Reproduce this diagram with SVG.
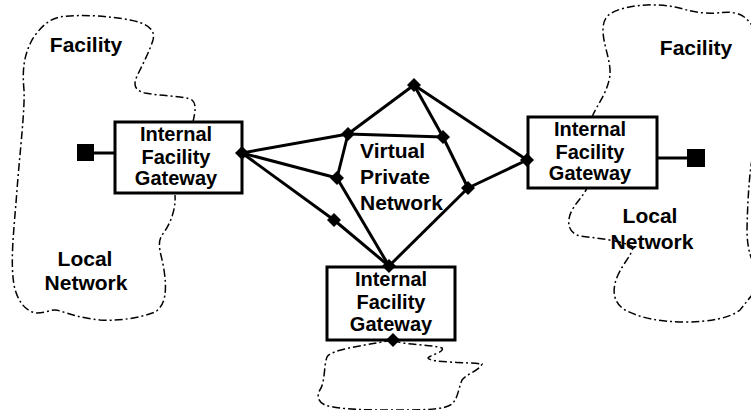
<svg xmlns="http://www.w3.org/2000/svg" width="751" height="410" viewBox="0 0 751 410">
<style>
.bg{fill:#fff}
.cloud{fill:none;stroke:#000;stroke-width:1.5;stroke-dasharray:8 3 2 3}
.box{fill:#fff;stroke:#000;stroke-width:3}
.edge{stroke:#000;stroke-width:3;fill:none}
.t{font-family:"Liberation Sans",Arial,sans-serif;font-weight:bold;font-size:20px;fill:#000;text-anchor:middle}
.tl{font-family:"Liberation Sans",Arial,sans-serif;font-weight:bold;font-size:21px;fill:#000;text-anchor:middle}
.tv{font-family:"Liberation Sans",Arial,sans-serif;font-weight:bold;font-size:21px;fill:#000}
</style>
<defs>
<path id="dia" d="M0,-7 L7,0 L0,7 L-7,0 Z" fill="#000"/>
</defs>
<rect class="bg" width="751" height="410"/>
<g id="clouds">
<path id="cloud-left" class="cloud" d="M193,122 C195,112 197,104 192,100 C186,96 160,96 145,93 C132,90 134,82 138,74 C143,64 150,50 153,40 C156,28 145,23 130,20 C110,16 80,14 60,17 C48,19 38,30 32,40 C24,55 22,70 24,90 C25,110 20,150 17,190 C14,230 10,260 14,285 C17,300 25,312 37,313 C47,313 52,308 60,311 C70,314 80,318 100,320 C120,321 140,318 155,312 C166,305 167,290 164,270 C162,255 156,245 162,235 C170,225 176,210 175,195"/>
<path id="cloud-right" class="cloud" d="M592,117 C597,105 608,92 610,75 C611,60 603,45 603,30 C603,18 608,12 625,8 C640,4 660,4 675,7 C685,9 690,12 705,13 C720,14 725,11 735,13 C745,15 750,22 755,30 L765,40 L765,125 C752,135 748,180 747,230 C747,250 752,262 756,266 L765,280 C754,292 748,300 740,310 C730,318 710,322 685,322 C660,322 640,318 625,310 C612,302 612,288 618,275 C624,262 632,255 633,247 C620,240 595,238 580,236 C568,233 566,222 572,210 C578,200 584,195 587,188"/>
<path id="cloud-bottom" class="cloud" d="M393,340 C400,345 430,344 442,348 C445,352 430,355 428,358 C430,363 470,362 482,364 C480,370 465,375 462,380 C458,390 458,398 452,404 C445,410 420,410 400,410 C370,410 340,410 325,405 C315,400 318,393 321,388 C325,380 324,365 327,357 C330,350 360,346 393,340 Z"/>
</g>
<g id="connectors">
<line class="edge" x1="94" y1="153" x2="115" y2="153"/>
<line class="edge" x1="657" y1="158" x2="687" y2="158"/>
<line class="edge" x1="242" y1="153" x2="348" y2="134"/>
<line class="edge" x1="242" y1="153" x2="337" y2="178"/>
<line class="edge" x1="242" y1="153" x2="334" y2="220"/>
<line class="edge" x1="334" y1="220" x2="389" y2="266"/>
<line class="edge" x1="337" y1="178" x2="389" y2="266"/>
<line class="edge" x1="348" y1="134" x2="337" y2="178"/>
<line class="edge" x1="348" y1="134" x2="414" y2="85"/>
<line class="edge" x1="348" y1="134" x2="443" y2="137"/>
<line class="edge" x1="414" y1="85" x2="443" y2="137"/>
<line class="edge" x1="414" y1="85" x2="527" y2="160"/>
<line class="edge" x1="443" y1="137" x2="468" y2="188"/>
<line class="edge" x1="468" y1="188" x2="527" y2="160"/>
<line class="edge" x1="468" y1="188" x2="389" y2="266"/>
</g>
<g id="gw-left">
<rect class="box" x="115" y="122" width="127" height="71"/>
<rect x="77" y="144" width="17" height="17" fill="#000"/>
<text class="t" x="176" y="141">Internal</text>
<text class="t" x="176" y="164">Facility</text>
<text class="t" x="176" y="185">Gateway</text>
</g>
<g id="gw-right">
<rect class="box" x="528" y="117" width="129" height="71"/>
<rect x="687" y="149" width="18" height="18" fill="#000"/>
<text class="t" x="590" y="136">Internal</text>
<text class="t" x="590" y="159">Facility</text>
<text class="t" x="590" y="180">Gateway</text>
</g>
<g id="gw-bottom">
<rect class="box" x="327" y="267" width="128" height="73"/>
<text class="t" x="391" y="286">Internal</text>
<text class="t" x="391" y="309">Facility</text>
<text class="t" x="391" y="331">Gateway</text>
</g>
<g id="vpn">
<use href="#dia" x="242" y="153"/>
<use href="#dia" x="414" y="85"/>
<use href="#dia" x="348" y="134"/>
<use href="#dia" x="443" y="137"/>
<use href="#dia" x="337" y="178"/>
<use href="#dia" x="334" y="220"/>
<use href="#dia" x="468" y="188"/>
<use href="#dia" x="527" y="160"/>
<use href="#dia" x="389" y="266"/>
<use href="#dia" x="393" y="340"/>
<text class="tv" x="360" y="158">Virtual</text>
<text class="tv" x="360" y="184">Private</text>
<text class="tv" x="360" y="210">Network</text>
</g>
<g id="labels">
<text class="tl" x="86" y="52">Facility</text>
<text class="tl" x="85" y="266">Local</text>
<text class="tl" x="86" y="290">Network</text>
<text class="tl" x="696" y="55">Facility</text>
<text class="tl" x="650" y="223">Local</text>
<text class="tl" x="652" y="249">Network</text>
</g>
</svg>
